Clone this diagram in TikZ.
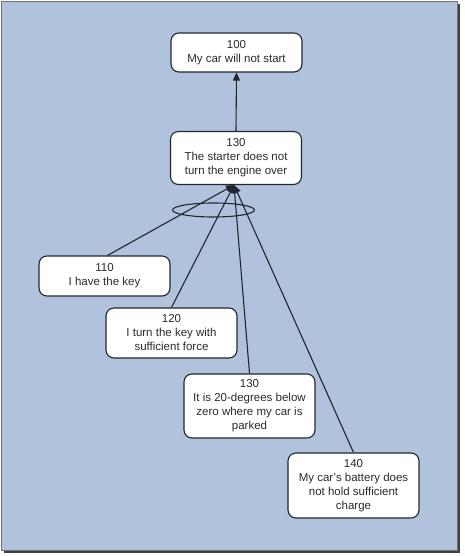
\documentclass[tikz,border=0pt]{standalone}
\usepackage{fontspec}
\setmainfont{Liberation Sans}
\usetikzlibrary{arrows.meta,calc,shapes.geometric}
\definecolor{bgblue}{HTML}{B1C3DC}
\definecolor{txt}{HTML}{2A2A2A}
\definecolor{edge}{HTML}{1F2630}
\tikzset{
  box/.style={draw=edge, line width=1.1pt, fill=white, rounded corners=8pt,
    minimum width=131pt, inner sep=0pt, align=center, text=txt,
    font=\fontsize{11.5}{14}\selectfont},
  link/.style={draw=edge, line width=1.1pt},
  tip/.style={-{Triangle[length=8pt,width=7pt]}}
}
\begin{document}
\begin{tikzpicture}[x=1pt,y=-1pt]
\useasboundingbox (0,0) rectangle (464,556);
\fill[white] (0,0) rectangle (464,556);
% frame with shadow
\fill[black!75] (4,4) rectangle (460,553);
\fill[bgblue] (1,1) rectangle (457,550);
\draw[black!55, line width=0.8pt] (1,1) rectangle (457,550);

\node[box, minimum height=39pt] (n100) at (236.5,52.5) {100\\My car will not start};
\node[box, minimum height=53pt] (n130) at (236,158) {130\\The starter does not\\turn the engine over};
\node[box, minimum height=40pt] (n110) at (104.5,276) {110\\I have the key};
\node[box, minimum height=50pt] (n120) at (171.5,333) {120\\I turn the key with\\sufficient force};
\node[box, minimum height=64pt] (n130b) at (249.5,406) {130\\It is 20-degrees below\\zero where my car is\\parked};
\node[box, minimum height=65pt] (n140) at (353.5,485.5) {140\\My car's battery does\\not hold sufficient\\charge};

\coordinate (conv) at (234,185);

\draw[link, tip] (n130.north) -- (n100.south);
\draw[link, tip] ($(n110.north)+(3,0)$) -- (conv);
\draw[link, tip] (n120.north) -- (conv);
\draw[link, tip] (n130b.north) -- (conv);
\draw[link, tip] (n140.north) -- (conv);

\node[draw=edge, line width=1.1pt, ellipse, minimum width=82pt, minimum height=14pt, inner sep=0pt] (ell) at (213.5,210) {};
\end{tikzpicture}
\end{document}
